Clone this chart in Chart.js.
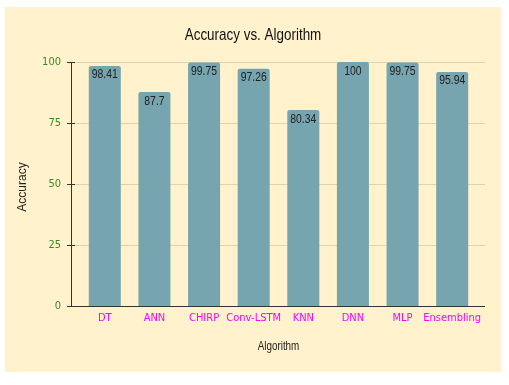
<!DOCTYPE html>
<html>
<head>
<meta charset="utf-8">
<script src="https://cdn.jsdelivr.net/npm/chart.js@4"></script>
<style>
  body { margin: 0; background: #fff; }
  #wrap { position: absolute; left: 5px; top: 7px; width: 496px; height: 365px; background: #fff2cc; }
</style>
</head>
<body>
<div id="wrap"><canvas id="accuracy_chart"></canvas></div>
<script>
const algorithms = ['DT', 'ANN', 'CHIRP', 'Conv-LSTM', 'KNN', 'DNN', 'MLP', 'Ensembling'];
const accuracy = [98.41, 87.7, 99.75, 97.26, 80.34, 100, 99.75, 95.94];
const yTicks = [0, 25, 50, 75, 100];

const chartTitle = 'Accuracy vs. Algorithm';
const xTitle = 'Algorithm';
const yTitle = 'Accuracy';

const sans = "'Liberation Sans', Arial, sans-serif";
const cond = "'DejaVu Sans Condensed', 'Liberation Sans', sans-serif";

// no narrow font installed, so squeeze Liberation Sans by hand
function squeezed(ctx, text, x, y, sx, rot) {
  ctx.save();
  ctx.translate(x, y);
  if (rot) ctx.rotate(rot);
  ctx.scale(sx, 1);
  ctx.fillText(text, 0, 0);
  ctx.restore();
}

// axis lines, tick marks and grid drawn a bit wider than the bar area (sheets style)
const axesPlugin = {
  id: 'axes',
  beforeDatasetsDraw(chart) {
    const { ctx, chartArea: a, scales: { y } } = chart;
    const x0 = a.left - 9, x1 = a.right + 8;
    ctx.save();
    ctx.lineWidth = 1;
    ctx.strokeStyle = '#ddd3ad';
    yTicks.forEach(t => {
      const py = Math.round(y.getPixelForValue(t)) + 0.5;
      ctx.beginPath(); ctx.moveTo(x0, py); ctx.lineTo(x1, py); ctx.stroke();
    });
    ctx.strokeStyle = '#333';
    yTicks.forEach(t => {
      const py = Math.round(y.getPixelForValue(t)) + 0.5;
      ctx.beginPath(); ctx.moveTo(x0 - 4, py); ctx.lineTo(x0 + 4, py); ctx.stroke();
    });
    const yb = Math.round(y.getPixelForValue(0)) + 0.5;
    ctx.beginPath();
    ctx.moveTo(x0 + 0.5, y.getPixelForValue(100));
    ctx.lineTo(x0 + 0.5, yb);
    ctx.lineTo(x1, yb);
    ctx.stroke();
    ctx.restore();
  }
};

// titles + value labels inside the top of each bar
const textPlugin = {
  id: 'texts',
  afterDatasetsDraw(chart) {
    const { ctx, chartArea: a } = chart;
    const meta = chart.getDatasetMeta(0);
    ctx.save();
    ctx.textAlign = 'center';
    ctx.textBaseline = 'middle';
    ctx.fillStyle = '#111';
    ctx.font = '17px ' + sans;
    squeezed(ctx, chartTitle, chart.width / 2, 28, 0.79);

    ctx.fillStyle = '#222';
    ctx.font = '12px ' + sans;
    squeezed(ctx, xTitle, (a.left + a.right) / 2, 340, 0.82);
    squeezed(ctx, yTitle, 18, (a.top + a.bottom) / 2 + 3, 1, -Math.PI / 2);

    ctx.font = '13px ' + sans;
    meta.data.forEach((bar, i) => {
      squeezed(ctx, String(accuracy[i]), bar.x, bar.y + 9, 0.8);
    });
    ctx.restore();
  }
};

const ctx = document.getElementById('accuracy_chart').getContext('2d');
new Chart(ctx, {
  type: 'bar',
  data: {
    labels: algorithms,
    datasets: [{
      label: 'Accuracy',
      data: accuracy,
      backgroundColor: '#76a5af',
      borderRadius: 2,
      borderSkipped: 'bottom',
      categoryPercentage: 1,
      barPercentage: 0.645
    }]
  },
  options: {
    responsive: true,
    maintainAspectRatio: false,
    animation: false,
    layout: { padding: { left: 0, right: 24, top: 55, bottom: 0 } },
    plugins: {
      legend: { display: false },
      tooltip: { enabled: false },
      title: { display: false }
    },
    scales: {
      x: {
        grid: { display: false, drawTicks: false },
        border: { display: false },
        ticks: { color: '#ff00ff', font: { family: cond, size: 11 }, padding: 6, maxRotation: 0, autoSkip: false },
        afterFit: s => { s.height = 66; }
      },
      y: {
        min: 0,
        max: 100,
        grid: { display: false, drawTicks: false },
        border: { display: false },
        ticks: { stepSize: 25, color: '#3d8b1f', font: { family: cond, size: 11 }, padding: 19 },
        afterFit: s => { s.width = 75; }
      }
    }
  },
  plugins: [axesPlugin, textPlugin]
});
</script>
</body>
</html>
